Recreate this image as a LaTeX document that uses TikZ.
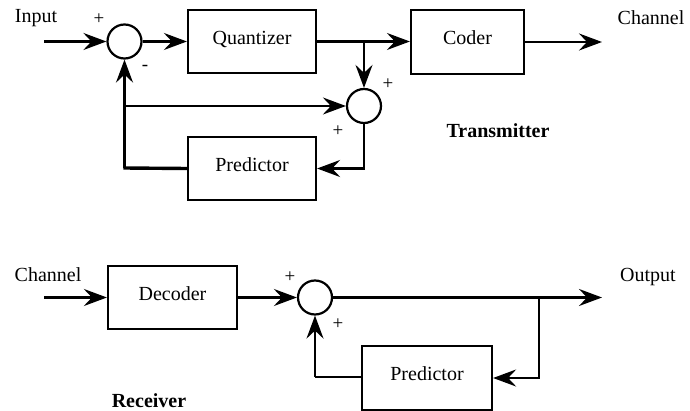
\documentclass[tikz,border=0pt]{standalone}
\usepackage{fontspec}
\setmainfont{Liberation Serif}
\usetikzlibrary{arrows.meta}
\begin{document}
\begin{tikzpicture}[x=1pt,y=-1pt,
  every node/.style={font=\fontsize{20}{24}\selectfont},
  blk/.style={draw,line width=2.2pt,inner sep=0pt},
  sumc/.style={draw,circle,line width=2.2pt,minimum size=34pt,inner sep=0pt},
  ln/.style={line width=2.2pt},
  arr/.style={line width=2.2pt,-{Stealth[length=23pt,width=17pt,inset=8pt]}},
  sgn/.style={font=\fontsize{19}{22}\selectfont,inner sep=0pt},
  ttl/.style={font=\fontsize{20}{24}\selectfont\bfseries,inner sep=0pt}]
\useasboundingbox (0,0) rectangle (690,411);
% Transmitter
\node[inner sep=0pt] (tin) at (36,18) {Input};
\node[sumc] (s1) at (124.5,41.5) {};
\node[blk,minimum width=128pt,minimum height=63pt] (q) at (252,41.5) {\raisebox{8pt}{Quantizer}};
\node[blk,minimum width=113pt,minimum height=64pt] (c) at (467.5,42) {\raisebox{8pt}{Coder}};
\node[inner sep=0pt] (tch) at (651,18) {Channel};
\node[sumc] (s2) at (364,106) {};
\node[blk,minimum width=128pt,minimum height=63pt] (p1) at (252,168.5) {\raisebox{8pt}{Predictor}};
\node[ttl] (tx) at (498,131) {Transmitter};
\node[sgn] (pl1) at (99,19) {+};
\node[sgn] (mi1) at (145,68) {-};
\node[sgn] (pl2) at (388,84) {+};
\node[sgn] (pl3) at (338,131) {+};
\coordinate (in) at (44,41.5);
\coordinate (b1) at (364,41.5);
\coordinate (cout) at (602,42);
\coordinate (fbc) at (124.5,168);
\coordinate (fb2) at (124.5,106);
\draw[arr] (in) -- (s1);
\draw[arr] (s1) -- (q);
\draw[arr] (q.east) -- (c.west |- q.east);
\draw[arr] (b1) -- (s2);
\draw[arr] (c.east) -- (cout);
\draw[arr] (s2.south) |- (p1.east);
\draw[line width=3.4pt] (p1.west) -- ([xshift=-1.1pt]fbc);
\draw[arr] (fbc) -- (s1.south);
\draw[arr] (fb2) -- (s2.west);
% Receiver
\node[inner sep=0pt] (rch) at (48,275) {Channel};
\node[blk,minimum width=129pt,minimum height=63pt] (d) at (172.5,297.5) {\raisebox{8pt}{Decoder}};
\node[sumc] (s3) at (315,297.5) {};
\node[blk,minimum width=130pt,minimum height=64pt] (p2) at (427,378) {\raisebox{8pt}{Predictor}};
\node[inner sep=0pt] (rout) at (648,277) {Output};
\node[ttl] (rx) at (149,401) {Receiver};
\node[sgn] (pl4) at (290,277) {+};
\node[sgn] (pl5) at (338,324) {+};
\coordinate (rin) at (44,297.5);
\coordinate (oend) at (602,297.5);
\coordinate (b2) at (539,297.5);
\coordinate (fb3) at (315,377);
\draw[arr] (rin) -- (d);
\draw[arr] (d) -- (s3);
\draw[arr] (s3) -- (oend);
\draw[arr] (b2) |- (p2.east);
\draw[ln] (p2.west) -- (fb3 -| p2.west) -- (fb3);
\draw[arr] (fb3) -- (s3.south);
\end{tikzpicture}
\end{document}
